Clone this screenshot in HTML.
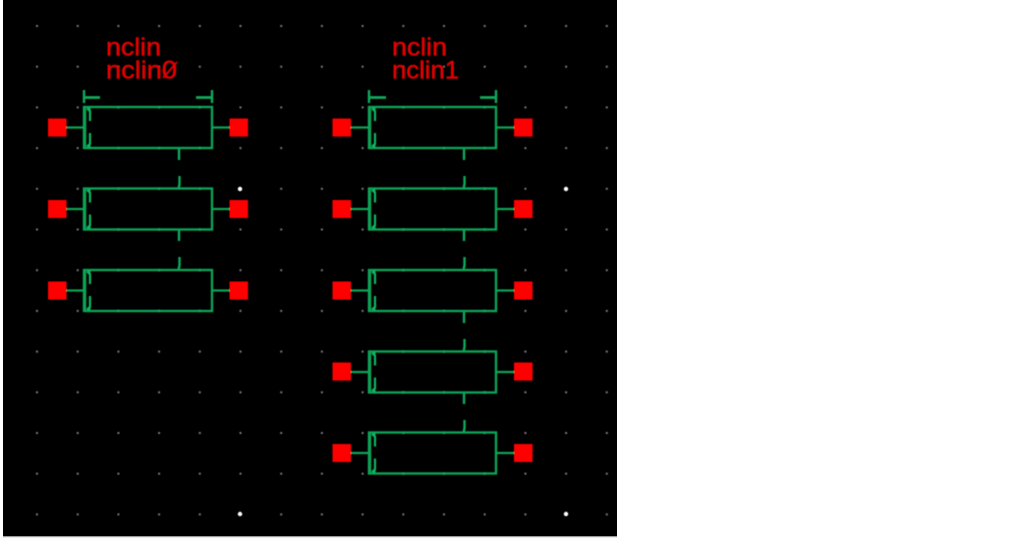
<!DOCTYPE html>
<html><head><meta charset="utf-8"><style>html,body{margin:0;padding:0;background:#fff;width:1013px;height:541px;overflow:hidden}svg{display:block}</style></head><body>
<svg xmlns="http://www.w3.org/2000/svg" width="1013" height="541" viewBox="0 0 1013 541">
<defs>
<filter id="b" x="-5%" y="-5%" width="110%" height="110%"><feGaussianBlur stdDeviation="0.4"/></filter>
<pattern id="d" x="37" y="26" width="40.7" height="40.7" patternUnits="userSpaceOnUse"><rect x="-1" y="-1" width="2" height="2" fill="#77778a"/><rect x="39.7" y="-1" width="2" height="2" fill="#77778a"/><rect x="-1" y="39.7" width="2" height="2" fill="#77778a"/><rect x="39.7" y="39.7" width="2" height="2" fill="#77778a"/></pattern>
<g id="marks" fill="none" stroke="#0fb562" stroke-width="2.2">
<path d="M87 1.500L90 4V14M87 39.500L90 37V26"/>
<path d="M85.500 1V40" stroke="#0a9f55" stroke-width="1.500"/>
<path d="M87 0.500h3.500v4h-2zM87 40.500h3.500v-4h-2z" fill="#0fb562" stroke="none"/>
</g>
<g id="res">
<rect x="84" y="0" width="128" height="41" fill="none" stroke="#09a356" stroke-width="2.400"/>
<path d="M66 20.500H84M212 20.500H230" stroke="#09a356" stroke-width="2.200" fill="none"/>
<use href="#marks"/>
</g>
<g id="res2">
<rect x="369" y="0" width="127" height="41" fill="none" stroke="#09a356" stroke-width="2.400"/>
<path d="M351 20.500H369M496 20.500H514" stroke="#09a356" stroke-width="2.200" fill="none"/>
<use href="#marks" x="285"/>
</g>
</defs>
<rect x="3" y="0" width="614" height="536" fill="#000"/>
<rect x="3" y="536" width="614" height="1.200" fill="#9a9a9a"/>
<g filter="url(#b)">
<rect x="30" y="20" width="584" height="500" fill="url(#d)"/>
</g>
<g fill="#fff" filter="url(#b)"><circle cx="240" cy="189" r="2.200"/><circle cx="566" cy="189" r="2.200"/><circle cx="240" cy="514" r="2.200"/><circle cx="566" cy="514" r="2.200"/></g>
<g filter="url(#b)">
<g stroke="#0bab5b" stroke-width="2.400" fill="none">
<path d="M84 90V103M212 90V103M369 90V103M496 90V103"/>
<path d="M84 97.500H100M196 97.500H212M369 97.500H386M480 97.500H496" stroke-width="2.800"/>
<path d="M179 148V160M179.500 176V184L178.500 189M179 229V241M179.500 257V265L178.500 270"/>
<path d="M464 148V160M464.500 176V184L463.500 189M464 229V241M464.500 257V265L463.500 270M464 311V323M464.500 339V347L463.500 352M464 392V404M464.500 420V428L463.500 433"/>
</g>
<use href="#res" y="107"/><use href="#res" y="188.500"/><use href="#res" y="270"/>
<use href="#res2" y="107"/><use href="#res2" y="188.500"/><use href="#res2" y="270"/><use href="#res2" y="351.500"/><use href="#res2" y="432.500"/>
<g fill="#f00">
<rect x="48" y="118.500" width="18.500" height="18"/><rect x="229.500" y="118.500" width="18.500" height="18"/>
<rect x="48" y="200" width="18.500" height="18"/><rect x="229.500" y="200" width="18.500" height="18"/>
<rect x="48" y="281.500" width="18.500" height="18"/><rect x="229.500" y="281.500" width="18.500" height="18"/>
<rect x="332.500" y="118.500" width="18.500" height="18"/><rect x="514" y="118.500" width="18.500" height="18"/>
<rect x="332.500" y="200" width="18.500" height="18"/><rect x="514" y="200" width="18.500" height="18"/>
<rect x="332.500" y="281.500" width="18.500" height="18"/><rect x="514" y="281.500" width="18.500" height="18"/>
<rect x="332.500" y="362.500" width="18.500" height="18"/><rect x="514" y="362.500" width="18.500" height="18"/>
<rect x="332.500" y="444" width="18.500" height="18"/><rect x="514" y="444" width="18.500" height="18"/>
</g>
<g fill="#e40000" stroke="#e40000" stroke-width="0.500" font-family="'Liberation Sans',sans-serif" font-size="25">
<text x="106" y="55.500" textLength="55" lengthAdjust="spacingAndGlyphs">nclin</text>
<text x="106" y="78.500" textLength="71" lengthAdjust="spacingAndGlyphs">nclin0</text>
<text x="392" y="55.500" textLength="55" lengthAdjust="spacingAndGlyphs">nclin</text>
<text x="392" y="78.500" textLength="67" lengthAdjust="spacingAndGlyphs">nclin1</text>
</g>
<path d="M163 78L177 62" stroke="#e40000" stroke-width="1.800"/>
</g>
</svg>
</body></html>
